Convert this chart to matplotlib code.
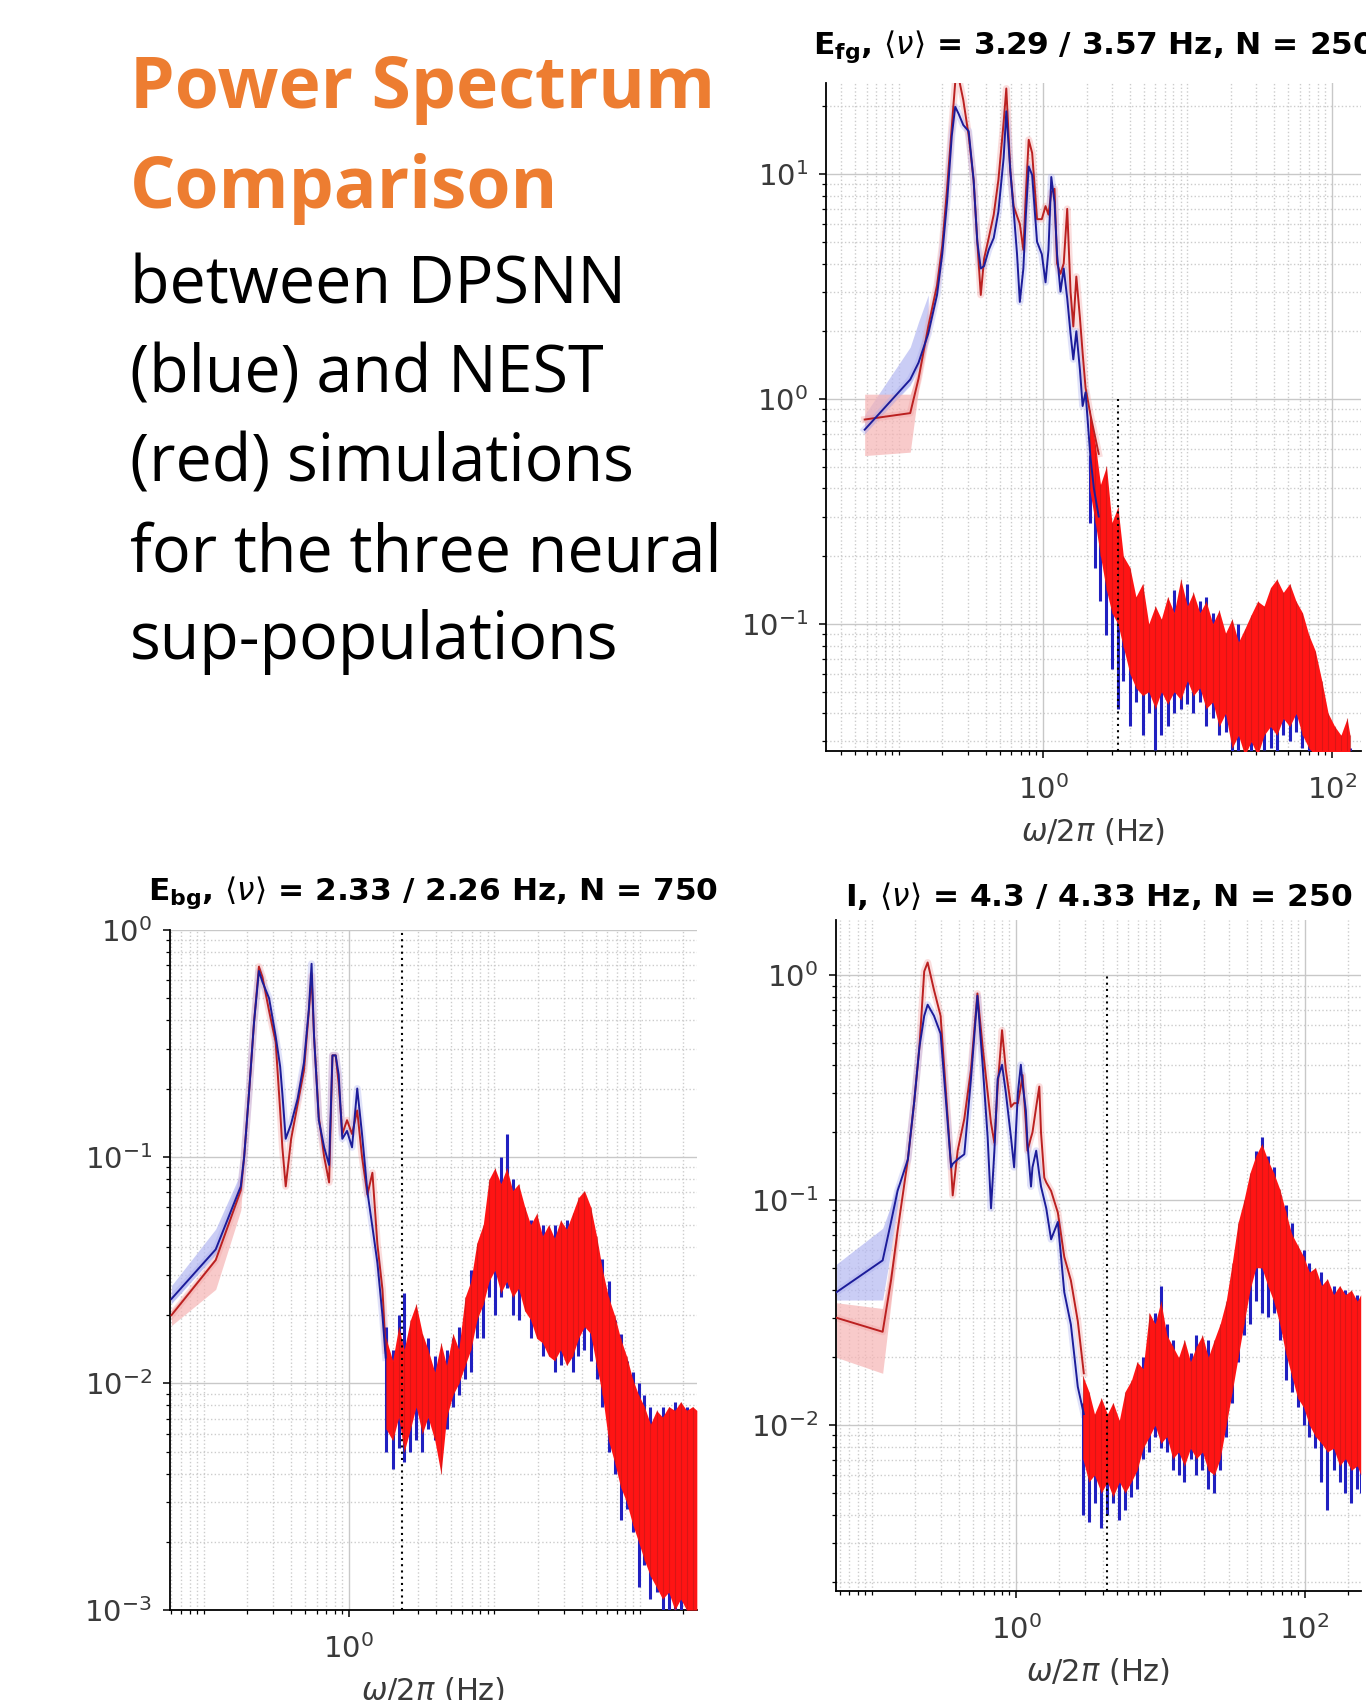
import numpy as np
import matplotlib
matplotlib.use("Agg")
from matplotlib import pyplot as plt
from matplotlib import ticker

plt.rcParams["axes.unicode_minus"] = False

# ---------------- panel info (from the titles) ----------------
pop_labels = [r"$\mathbf{E_{fg}}$", r"$\mathbf{E_{bg}}$", "I"]
rate_dpsnn = [3.29, 2.33, 4.3]
rate_nest = [3.57, 2.26, 4.33]
n_neurons = [250, 750, 250]

# ---------------- E_fg ----------------
efg_f = [0.058, 0.12, 0.137, 0.16, 0.184, 0.2, 0.216, 0.233, 0.246, 0.26,
         0.28, 0.305, 0.33, 0.35, 0.37, 0.39, 0.42, 0.455, 0.49, 0.533,
         0.556, 0.593, 0.625, 0.66, 0.69, 0.73, 0.76, 0.795, 0.84, 0.908,
         0.98, 1.04, 1.09, 1.14, 1.2, 1.25, 1.32, 1.39, 1.47, 1.55,
         1.62, 1.7, 1.8, 1.88, 1.97, 2.13, 2.25, 2.43]
efg_dpsnn = [0.73, 1.22, 1.45, 1.95, 2.9, 4.4, 7.5, 14.8, 19.9, 18.5,
             16.5, 15.5, 9.4, 5.0, 3.8, 3.9, 4.6, 5.2, 6.8, 11.8,
             19.0, 10.3, 6.9, 4.4, 2.7, 3.8, 6.6, 10.8, 9.9, 5.0,
             4.4, 3.3, 4.6, 9.7, 7.5, 4.4, 3.0, 3.8, 2.8, 1.95,
             1.5, 2.0, 1.35, 0.93, 1.07, 0.55, 0.40, 0.30]
efg_nest = [0.81, 0.865, 1.23, 2.1, 3.2, 4.8, 8.6, 16.3, 25.5, 26.8,
            21.3, 14.8, 9.4, 5.0, 2.9, 4.2, 5.2, 6.6, 9.4, 17.0,
            24.0, 10.3, 7.2, 6.5, 6.0, 4.6, 8.2, 14.2, 12.4, 6.3,
            6.3, 7.2, 6.6, 8.3, 8.6, 4.0, 3.6, 4.0, 7.0, 3.0,
            2.1, 3.5, 2.3, 1.6, 1.12, 0.85, 0.72, 0.57]
efg_band_f = [0.058, 0.12, 0.137, 0.16]
efg_dpsnn_band_lo = [0.70, 1.15, 1.4, 1.85]
efg_dpsnn_band_hi = [0.85, 1.7, 2.2, 2.9]
efg_nest_band_lo = [0.56, 0.58, 1.1, 1.9]
efg_nest_band_hi = [1.05, 1.05, 1.35, 2.3]

efg_f_hi = [2.1, 2.3, 2.5, 2.75, 3.0, 3.3, 3.6, 4.0, 4.4, 4.9,
            5.4, 6.0, 6.6, 7.3, 8.1, 9.0, 10, 11, 12.2, 13.5,
            15, 16.6, 18.4, 20.4, 22.6, 25, 27.7, 30.7, 34, 37.7,
            41.7, 46.2, 51.2, 56.7, 62.8, 69.6, 77, 85.4, 94.6, 105,
            116, 128, 134]
efg_nest_top = [0.891, 0.631, 0.417, 0.501, 0.282, 0.331, 0.200, 0.178, 0.132, 0.151,
                0.100, 0.120, 0.105, 0.132, 0.112, 0.158, 0.120, 0.138, 0.112, 0.126,
                0.100, 0.115, 0.091, 0.105, 0.083, 0.095, 0.110, 0.126, 0.120, 0.145,
                0.158, 0.138, 0.151, 0.126, 0.112, 0.089, 0.076, 0.056, 0.040, 0.035,
                0.032, 0.038, 0.032]
efg_nest_bot = [0.398, 0.282, 0.200, 0.141, 0.112, 0.100, 0.079, 0.060, 0.052, 0.048,
                0.050, 0.042, 0.050, 0.044, 0.050, 0.046, 0.056, 0.048, 0.052, 0.042,
                0.045, 0.035, 0.040, 0.028, 0.032, 0.026, 0.030, 0.026, 0.032, 0.035,
                0.032, 0.038, 0.035, 0.040, 0.032, 0.028, 0.026, 0.026, 0.026, 0.026,
                0.026, 0.026, 0.026]
efg_dpsnn_top = [0.562, 0.447, 0.355, 0.282, 0.224, 0.200, 0.158, 0.141, 0.112, 0.126,
                 0.095, 0.100, 0.089, 0.112, 0.141, 0.126, 0.151, 0.112, 0.126, 0.132,
                 0.112, 0.100, 0.089, 0.095, 0.100, 0.079, 0.089, 0.100, 0.112, 0.126,
                 0.151, 0.126, 0.132, 0.112, 0.100, 0.079, 0.063, 0.050, 0.035, 0.032,
                 0.030, 0.033, 0.028]
efg_dpsnn_bot = [0.282, 0.178, 0.126, 0.089, 0.063, 0.042, 0.056, 0.035, 0.045, 0.032,
                 0.040, 0.0275, 0.032, 0.035, 0.040, 0.042, 0.044, 0.040, 0.045, 0.035,
                 0.038, 0.032, 0.033, 0.026, 0.026, 0.026, 0.026, 0.026, 0.0275, 0.028,
                 0.026, 0.032, 0.030, 0.033, 0.028, 0.026, 0.026, 0.026, 0.026, 0.026,
                 0.026, 0.026, 0.026]

# ---------------- E_bg ----------------
ebg_f = [0.06, 0.121, 0.18, 0.19, 0.205, 0.222, 0.24, 0.254, 0.282, 0.313,
         0.336, 0.348, 0.367, 0.40, 0.443, 0.49, 0.53, 0.553, 0.575, 0.62,
         0.675, 0.73, 0.77, 0.81, 0.85, 0.9, 0.97, 1.05, 1.14, 1.23,
         1.34, 1.45, 1.57, 1.7, 1.79]
ebg_dpsnn = [0.0236, 0.039, 0.074, 0.10, 0.19, 0.39, 0.66, 0.59, 0.50, 0.34,
             0.25, 0.19, 0.12, 0.14, 0.18, 0.26, 0.45, 0.71, 0.34, 0.145,
             0.11, 0.092, 0.28, 0.28, 0.23, 0.12, 0.13, 0.11, 0.2, 0.126,
             0.07, 0.049, 0.034, 0.02, 0.013]
ebg_nest = [0.020, 0.035, 0.071, 0.10, 0.19, 0.39, 0.69, 0.62, 0.44, 0.32,
            0.16, 0.11, 0.074, 0.12, 0.17, 0.24, 0.44, 0.63, 0.34, 0.15,
            0.10, 0.077, 0.28, 0.28, 0.21, 0.126, 0.145, 0.126, 0.16, 0.10,
            0.068, 0.085, 0.041, 0.026, 0.014]
ebg_band_f = [0.06, 0.121, 0.18, 0.19]
ebg_dpsnn_band_lo = [0.0225, 0.037, 0.072, 0.10]
ebg_dpsnn_band_hi = [0.027, 0.048, 0.085, 0.105]
ebg_nest_band_lo = [0.018, 0.026, 0.058, 0.095]
ebg_nest_band_hi = [0.021, 0.036, 0.073, 0.10]

ebg_f_hi = [1.8, 2.0, 2.2, 2.4, 2.65, 2.9, 3.2, 3.5, 3.9, 4.3,
            4.7, 5.2, 5.7, 6.3, 6.9, 7.6, 8.4, 9.2, 10.1, 11.1,
            12.2, 13.4, 14.7, 16.2, 17.8, 19.6, 21.5, 23.7, 26, 28.6,
            31.5, 34.6, 38, 41.8, 46, 50.6, 55.6, 61.2, 67.3, 74,
            81.4, 89.5, 98.5, 108, 119, 131, 144, 159, 175, 192,
            211, 232, 248]
ebg_nest_top = [0.0158, 0.0126, 0.0178, 0.0141, 0.0191, 0.0224, 0.0166, 0.0141, 0.0112, 0.0151,
                0.0120, 0.0166, 0.0141, 0.0240, 0.0282, 0.0417, 0.0501, 0.0794, 0.0891, 0.0759,
                0.0891, 0.0708, 0.0759, 0.0603, 0.0501, 0.0562, 0.0447, 0.0501, 0.0437, 0.0525,
                0.0479, 0.0562, 0.0661, 0.0708, 0.0603, 0.0447, 0.0316, 0.0240, 0.0200, 0.0158,
                0.0132, 0.0105, 0.0089, 0.0079, 0.0066, 0.0076, 0.0071, 0.0079, 0.0076, 0.0083,
                0.0076, 0.0079, 0.0076]
ebg_nest_bot = [0.0063, 0.0056, 0.0071, 0.0050, 0.0063, 0.0079, 0.0060, 0.0071, 0.0056, 0.0040,
                0.0071, 0.0089, 0.0100, 0.0120, 0.0141, 0.0191, 0.0224, 0.0282, 0.0316, 0.0251,
                0.0282, 0.0240, 0.0263, 0.0209, 0.0191, 0.0158, 0.0151, 0.0132, 0.0126, 0.0141,
                0.0120, 0.0132, 0.0158, 0.0178, 0.0166, 0.0120, 0.0089, 0.0056, 0.0045, 0.0035,
                0.0030, 0.0024, 0.0020, 0.00166, 0.00141, 0.00126, 0.00112, 0.0012, 0.0010, 0.00112,
                0.0010, 0.0010, 0.0010]
ebg_dpsnn_top = [0.0178, 0.0141, 0.0200, 0.0251, 0.0158, 0.0191, 0.0158, 0.0158, 0.0132, 0.0126,
                 0.0141, 0.0158, 0.0178, 0.0200, 0.0316, 0.0380, 0.0447, 0.0708, 0.0794, 0.100,
                 0.126, 0.0794, 0.0631, 0.0562, 0.0525, 0.0479, 0.0501, 0.0417, 0.0501, 0.0447,
                 0.0525, 0.0447, 0.0562, 0.0603, 0.0501, 0.0398, 0.0355, 0.0282, 0.0191, 0.0166,
                 0.0126, 0.0112, 0.0100, 0.0089, 0.0079, 0.0071, 0.0079, 0.0071, 0.0083, 0.0076,
                 0.0079, 0.0072, 0.0071]
ebg_dpsnn_bot = [0.0050, 0.0042, 0.0052, 0.0045, 0.0050, 0.0056, 0.0050, 0.0063, 0.0056, 0.0050,
                 0.0063, 0.0079, 0.0089, 0.0105, 0.0112, 0.0158, 0.0158, 0.0240, 0.0200, 0.0240,
                 0.0263, 0.0200, 0.0191, 0.0224, 0.0158, 0.0166, 0.0132, 0.0141, 0.0112, 0.0120,
                 0.0132, 0.0112, 0.0132, 0.0141, 0.0126, 0.0105, 0.0079, 0.0050, 0.0040, 0.0025,
                 0.0028, 0.0022, 0.00126, 0.00158, 0.00112, 0.0012, 0.0010, 0.0010, 0.0010, 0.0010,
                 0.0010, 0.0010, 0.0010]

# ---------------- I ----------------
inh_f = [0.057, 0.119, 0.136, 0.151, 0.178, 0.197, 0.214, 0.231, 0.244, 0.27,
         0.30, 0.327, 0.355, 0.364, 0.394, 0.438, 0.487, 0.54, 0.587, 0.636,
         0.671, 0.708, 0.746, 0.8, 0.85, 0.923, 0.97, 1.03, 1.08, 1.11,
         1.17, 1.2, 1.27, 1.3, 1.38, 1.45, 1.49, 1.57, 1.62, 1.75,
         1.95, 2.16, 2.4, 2.68, 2.95]
inh_dpsnn = [0.039, 0.054, 0.080, 0.11, 0.152, 0.275, 0.48, 0.66, 0.74, 0.66,
             0.55, 0.275, 0.14, 0.145, 0.152, 0.16, 0.346, 0.81, 0.40, 0.19,
             0.092, 0.166, 0.346, 0.40, 0.30, 0.19, 0.14, 0.30, 0.40, 0.33,
             0.25, 0.18, 0.115, 0.14, 0.166, 0.13, 0.115, 0.10, 0.092, 0.067,
             0.080, 0.039, 0.028, 0.0148, 0.0112]
inh_nest = [0.030, 0.026, 0.044, 0.073, 0.152, 0.275, 0.48, 1.04, 1.14, 0.86,
            0.66, 0.30, 0.14, 0.105, 0.166, 0.23, 0.38, 0.83, 0.48, 0.30,
            0.22, 0.18, 0.32, 0.57, 0.38, 0.26, 0.27, 0.27, 0.32, 0.36,
            0.22, 0.166, 0.19, 0.20, 0.26, 0.32, 0.20, 0.126, 0.12, 0.11,
            0.088, 0.056, 0.044, 0.029, 0.017]
inh_band_f = [0.057, 0.119, 0.136, 0.151]
inh_dpsnn_band_lo = [0.036, 0.036, 0.06, 0.095]
inh_dpsnn_band_hi = [0.052, 0.075, 0.095, 0.12]
inh_nest_band_lo = [0.020, 0.017, 0.035, 0.065]
inh_nest_band_hi = [0.035, 0.033, 0.05, 0.08]

inh_f_hi = [2.9, 3.2, 3.5, 3.9, 4.3, 4.7, 5.2, 5.7, 6.3, 6.9,
            7.6, 8.4, 9.2, 10.1, 11.1, 12.2, 13.4, 14.7, 16.2, 17.8,
            19.6, 21.5, 23.7, 26, 28.6, 31.5, 34.6, 38, 41.8, 46,
            50.6, 55.6, 61.2, 67.3, 74, 81.4, 89.5, 98.5, 108, 119,
            131, 144, 159, 175, 192, 211, 232, 245]
inh_nest_top = [0.0166, 0.0141, 0.0112, 0.0132, 0.0112, 0.0126, 0.0105, 0.0141, 0.0158, 0.0191,
                0.0178, 0.0316, 0.0282, 0.0355, 0.0251, 0.0224, 0.0200, 0.0240, 0.0191, 0.0224,
                0.0251, 0.0200, 0.0240, 0.0282, 0.0355, 0.0525, 0.0794, 0.100, 0.132, 0.158,
                0.178, 0.151, 0.132, 0.112, 0.0891, 0.0708, 0.0631, 0.0562, 0.0479, 0.0501,
                0.0417, 0.0447, 0.0380, 0.0417, 0.0380, 0.0398, 0.0355, 0.0380]
inh_nest_bot = [0.0071, 0.0056, 0.0060, 0.0050, 0.0056, 0.0048, 0.0056, 0.0050, 0.0056, 0.0063,
                0.0079, 0.0089, 0.0100, 0.0083, 0.0089, 0.0071, 0.0076, 0.0066, 0.0079, 0.0071,
                0.0076, 0.0063, 0.0060, 0.0071, 0.0100, 0.0141, 0.0200, 0.0282, 0.0398, 0.0501,
                0.0501, 0.0417, 0.0355, 0.0282, 0.0209, 0.0166, 0.0132, 0.0120, 0.0100, 0.0089,
                0.0083, 0.0076, 0.0079, 0.0066, 0.0071, 0.0063, 0.0066, 0.0060]
inh_dpsnn_top = [0.0126, 0.0112, 0.0100, 0.0089, 0.0105, 0.0112, 0.0100, 0.0112, 0.0141, 0.0158,
                 0.0200, 0.0240, 0.0316, 0.0417, 0.0282, 0.0240, 0.0178, 0.0200, 0.0209, 0.0251,
                 0.0224, 0.0240, 0.0200, 0.0263, 0.0316, 0.0447, 0.0708, 0.0891, 0.112, 0.166,
                 0.191, 0.158, 0.141, 0.105, 0.0955, 0.0794, 0.0562, 0.0603, 0.0525, 0.0447,
                 0.0479, 0.0398, 0.0417, 0.0380, 0.0398, 0.0355, 0.0380, 0.0355]
inh_dpsnn_bot = [0.0040, 0.0037, 0.0045, 0.0035, 0.0040, 0.0045, 0.0038, 0.0042, 0.0048, 0.0052,
                 0.0071, 0.0076, 0.0089, 0.0079, 0.0076, 0.0063, 0.0060, 0.0056, 0.0071, 0.0060,
                 0.0063, 0.0052, 0.0050, 0.0063, 0.0089, 0.0126, 0.0191, 0.0251, 0.0282, 0.0355,
                 0.0316, 0.0302, 0.0316, 0.0240, 0.0158, 0.0141, 0.0120, 0.0100, 0.0089, 0.0079,
                 0.0056, 0.0042, 0.0063, 0.0056, 0.0050, 0.0045, 0.0052, 0.0050]

BLUE = "#1c1c9a"
RED = "#bb2020"


def draw_panel(ax, f, dpsnn, nest, band_f, d_lo, d_hi, n_lo, n_hi,
               f_hi, d_top, d_bot, n_top, n_bot):
    ax.fill_between(band_f, d_lo, d_hi, color="#b4b8f2", alpha=0.7, lw=0, zorder=2)
    ax.fill_between(band_f, n_lo, n_hi, color="#f6b4b4", alpha=0.7, lw=0, zorder=2)
    ax.plot(f, nest, color="#f2a0a0", lw=5, alpha=0.35, zorder=2.5)
    ax.plot(f, dpsnn, color="#a8acee", lw=5, alpha=0.35, zorder=2.5)
    # noisy high-frequency part: DPSNN as spikes, NEST as a filled envelope
    ax.vlines(f_hi, d_bot, d_top, colors="#2020c0", lw=2.2, zorder=3)
    ax.fill_between(f_hi, n_bot, n_top, color="#ff1414", lw=0, zorder=4)
    ax.vlines(f_hi, n_bot, n_top, colors="#b81818", lw=0.8, alpha=0.55, zorder=4.1)
    ax.plot(f, nest, color=RED, lw=1.4, zorder=5)
    ax.plot(f, dpsnn, color=BLUE, lw=1.4, zorder=5.1)


def style_axes(ax, xlim, ylim, xmajor, title, pad):
    ax.set_xscale("log")
    ax.set_yscale("log")
    ax.set_xlim(*xlim)
    ax.set_ylim(*ylim)
    ax.xaxis.set_major_locator(ticker.FixedLocator(xmajor))
    ax.xaxis.set_major_formatter(ticker.LogFormatterSciNotation())
    ax.xaxis.set_minor_locator(ticker.LogLocator(base=10, subs=np.arange(1, 10), numticks=60))
    ax.xaxis.set_minor_formatter(ticker.NullFormatter())
    ax.yaxis.set_major_locator(ticker.LogLocator(base=10, numticks=20))
    ax.yaxis.set_minor_locator(ticker.LogLocator(base=10, subs=np.arange(2, 10), numticks=60))
    ax.yaxis.set_minor_formatter(ticker.NullFormatter())
    ax.grid(True, which="major", color="#c8c8c8", lw=1.0)
    ax.grid(True, which="minor", color="#cccccc", ls=":", lw=1.0)
    ax.set_axisbelow(True)
    for s in ["top", "right"]:
        ax.spines[s].set_visible(False)
    for s in ["left", "bottom"]:
        ax.spines[s].set_linewidth(1.3)
    ax.tick_params(which="major", length=5, width=1.1, labelsize=21,
                   labelcolor="#3a3a3a")
    ax.tick_params(which="minor", length=3, width=0.9)
    ax.tick_params(axis="x", which="major", pad=12)
    ax.tick_params(axis="y", which="major", pad=8)
    ax.set_xlabel(r"$\omega/2\pi$ (Hz)", fontsize=22, color="#3a3a3a", labelpad=8)
    ax.set_title(title, fontsize=22.5, fontweight="bold", pad=pad)


fig = plt.figure(figsize=(13.66, 17), dpi=100)

# left text block
fig.text(0.0952, 0.9365, "Power Spectrum", family="Open Sans", fontweight="bold",
         fontsize=51.3, color="#ED7D31", va="baseline")
fig.text(0.0952, 0.8776, "Comparison", family="Open Sans", fontweight="bold",
         fontsize=51.3, color="#ED7D31", va="baseline")
body = ["between DPSNN", "(blue) and NEST", "(red) simulations",
        "for the three neural", "sup-populations"]
body_y = [0.8212, 0.7694, 0.7165, 0.6641, 0.6124]
for line, y in zip(body, body_y):
    fig.text(0.0952, y, line, family="Open Sans", fontsize=46.5, color="black",
             va="baseline")

ax_fg = fig.add_axes([0.6047, 0.5582, 0.3917, 0.3930])
ax_bg = fig.add_axes([0.1245, 0.0529, 0.3858, 0.4000])
ax_in = fig.add_axes([0.6120, 0.0641, 0.3843, 0.3947])

draw_panel(ax_fg, efg_f, efg_dpsnn, efg_nest, efg_band_f, efg_dpsnn_band_lo,
           efg_dpsnn_band_hi, efg_nest_band_lo, efg_nest_band_hi,
           efg_f_hi, efg_dpsnn_top, efg_dpsnn_bot, efg_nest_top, efg_nest_bot)
draw_panel(ax_bg, ebg_f, ebg_dpsnn, ebg_nest, ebg_band_f, ebg_dpsnn_band_lo,
           ebg_dpsnn_band_hi, ebg_nest_band_lo, ebg_nest_band_hi,
           ebg_f_hi, ebg_dpsnn_top, ebg_dpsnn_bot, ebg_nest_top, ebg_nest_bot)
draw_panel(ax_in, inh_f, inh_dpsnn, inh_nest, inh_band_f, inh_dpsnn_band_lo,
           inh_dpsnn_band_hi, inh_nest_band_lo, inh_nest_band_hi,
           inh_f_hi, inh_dpsnn_top, inh_dpsnn_bot, inh_nest_top, inh_nest_bot)

axes = [ax_fg, ax_bg, ax_in]
xlims = [(0.0313, 160), (0.0587, 249), (0.0565, 246)]
ylims = [(0.0272, 25.4), (1e-3, 1.0), (0.00183, 1.76)]
xmajors = [[1, 100], [1], [1, 100]]
pads = [21, 22, 10]
for i, ax in enumerate(axes):
    title = (pop_labels[i] + r", $\langle\nu\rangle$ = " + f"{rate_dpsnn[i]} / "
             f"{rate_nest[i]} Hz, N = {n_neurons[i]}")
    style_axes(ax, xlims[i], ylims[i], xmajors[i], title, pads[i])
    ax.vlines(rate_dpsnn[i], ylims[i][0], 1.0, colors="black",
              linestyles=(0, (1, 2)), lw=1.5, zorder=6)

fig.savefig("out.png", dpi=100)
